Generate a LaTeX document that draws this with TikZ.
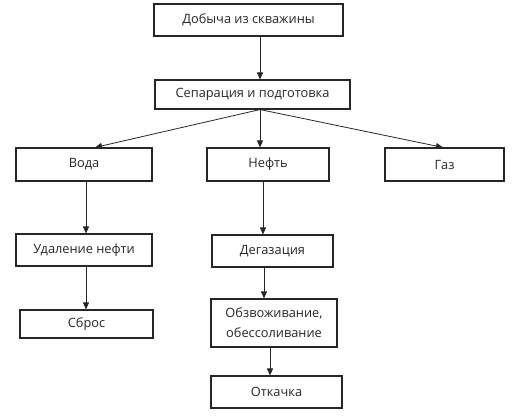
\documentclass[tikz,border=0pt]{standalone}
\usepackage{fontspec}
\setmainfont{Open Sans}
\usetikzlibrary{arrows.meta}
\begin{document}
\begin{tikzpicture}[x=1pt,y=1pt,
  box/.style={draw=black!85,line width=1.1pt,fill=white,inner sep=0pt,align=center,font=\fontsize{12.8}{20}\selectfont,text=black!85},
  arr/.style={draw=black!85,line width=0.8pt,-{Triangle[length=7pt,width=6pt]}}]
\useasboundingbox (0,0) rectangle (514,-418);
\node[box,minimum width=189pt,minimum height=32pt] (top) at (248.5,-20) {Добыча из скважины};
\node[box,minimum width=195pt,minimum height=29pt] (sep) at (252.5,-94.5) {Сепарация и подготовка};
\node[box,minimum width=136pt,minimum height=33pt] (voda) at (84,-164.5) {Вода};
\node[box,minimum width=122pt,minimum height=33pt] (neft) at (268,-164.5) {Нефть};
\node[box,minimum width=119pt,minimum height=33pt] (gaz) at (444.5,-164.5) {Газ};
\node[box,minimum width=136pt,minimum height=32pt] (udal) at (84,-250) {Удаление нефти};
\node[box,minimum width=121pt,minimum height=32pt] (degaz) at (272.5,-251) {Дегазация};
\node[box,minimum width=133pt,minimum height=28pt] (sbros) at (86.5,-324) {Сброс};
\node[box,minimum width=126pt,minimum height=48pt] (obezv) at (274,-323) {Обзвоживание,\\обессоливание};
\node[box,minimum width=131pt,minimum height=32pt] (otk) at (276.5,-392) {Откачка};
\coordinate (c1) at (260,0);
\coordinate (cv) at (95,0);
\coordinate (cg) at (443,0);
\coordinate (cw) at (86,0);
\coordinate (cn) at (263,0);
\coordinate (cd) at (264,0);
\coordinate (co) at (270,0);
\draw[arr] (top.south -| c1) -- (sep.north -| c1);
\draw[arr] (sep.south -| c1) -- (voda.north -| cv);
\draw[arr] (sep.south -| c1) -- (neft.north -| c1);
\draw[arr] (sep.south -| c1) -- (gaz.north -| cg);
\draw[arr] (voda.south -| cw) -- (udal.north -| cw);
\draw[arr] (neft.south -| cn) -- (degaz.north -| cn);
\draw[arr] (udal.south -| cw) -- (sbros.north -| cw);
\draw[arr] (degaz.south -| cd) -- (obezv.north -| cd);
\draw[arr] (obezv.south -| co) -- (otk.north -| co);
\end{tikzpicture}
\end{document}
